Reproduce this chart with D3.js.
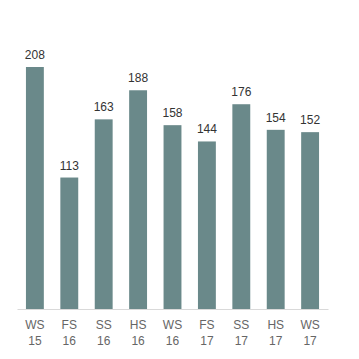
<!DOCTYPE html>
<html><head><meta charset="utf-8">
<script src="https://cdn.jsdelivr.net/npm/d3@7"></script>
<style>body{margin:0;background:#fff}svg{display:block}</style>
</head><body>
<script>
const categories = ["WS 15","FS 16","SS 16","HS 16","WS 16","FS 17","SS 17","HS 17","WS 17"];
const values = [208,113,163,188,158,144,176,154,152];

const W = 359, H = 359;
const svg = d3.select("body").append("svg").attr("width", W).attr("height", H);
const x = d3.scaleBand().domain(categories).range([17, 328]).paddingInner(0.48).paddingOuter(0.26);
const y = d3.scaleLinear().domain([0, 208]).range([309, 67]);

svg.selectAll("rect.bar").data(values).enter().append("rect")
  .attr("x", (d,i) => x(categories[i]))
  .attr("width", x.bandwidth())
  .attr("y", d => y(d))
  .attr("height", d => y(0) - y(d))
  .attr("fill", "#6a898a");

svg.selectAll("text.val").data(values).enter().append("text")
  .attr("x", (d,i) => x(categories[i]) + x.bandwidth()/2)
  .attr("y", d => y(d) - 8)
  .attr("text-anchor", "middle")
  .attr("font-family", "Liberation Sans, Arial, sans-serif")
  .attr("font-size", 12)
  .attr("fill", "#333")
  .text(d => d);

const axis = d3.axisBottom(x).tickSize(0).tickPadding(0);
const g = svg.append("g").attr("transform", `translate(0,${y(0)})`).call(axis);
g.select(".domain").attr("stroke", "#d9d9d9").attr("stroke-width", 1);
g.selectAll(".tick text").remove();
g.selectAll(".tick").each(function(d){
  const parts = d.split(" ");
  const t = d3.select(this).append("text")
    .attr("text-anchor", "middle")
    .attr("font-family", "Liberation Sans, Arial, sans-serif")
    .attr("font-size", 12)
    .attr("fill", "#666");
  t.append("tspan").attr("x", 0).attr("y", 20).text(parts[0]);
  t.append("tspan").attr("x", 0).attr("y", 36).text(parts[1]);
});
</script>
</body></html>
